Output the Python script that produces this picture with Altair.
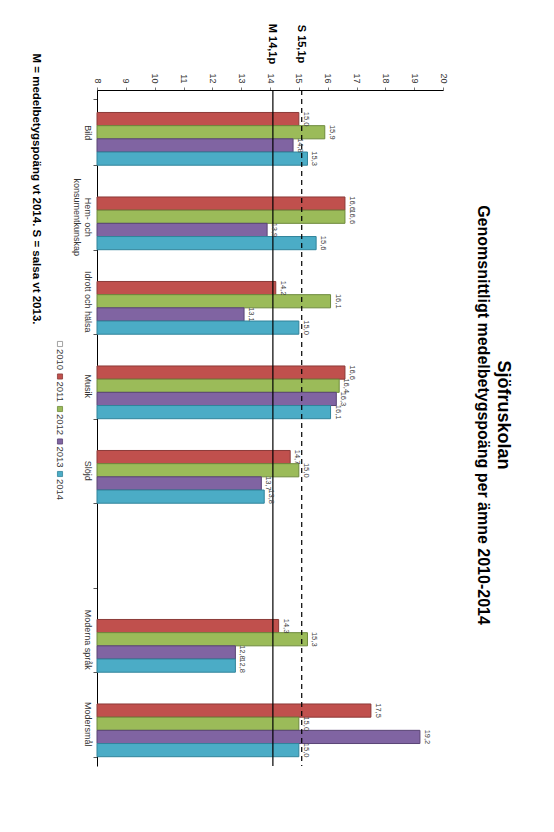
import altair as alt
import pandas as pd

# ---- data ----
categories = ["Bild", "Hem- och|konsumentkunskap", "Idrott och hälsa", "Musik",
              "Slöjd", " ", "Moderna språk", "Modersmål"]
years = ["2010", "2011", "2012", "2013", "2014"]
v2010 = [None, None, None, None, None, None, None, None]
v2011 = [15.0, 16.6, 14.2, 16.6, 14.7, None, 14.3, 17.5]
v2012 = [15.9, 16.6, 16.1, 16.4, 15.0, None, 15.3, 15.0]
v2013 = [14.8, 13.9, 13.1, 16.3, 13.7, None, 12.8, 19.2]
v2014 = [15.3, 15.6, 15.0, 16.1, 13.8, None, 12.8, 15.0]
fill_colors = ["#FFFFFF", "#C0504D", "#9BBB59", "#8064A2", "#4BACC6"]
stroke_colors = ["#8C8C8C", "#8C3A38", "#6E8A3C", "#5A4575", "#31849B"]
ref_names = ["M 14,1p", "S 15,1p"]
ref_values = [14.1, 15.1]
x_ticks = list(range(8, 21))
title_text = "Sjöfruskolan"
subtitle_text = "Genomsnittligt medelbetygspoäng per ämne 2010-2014"
footnote = "M = medelbetygspoäng vt 2014. S = salsa vt 2013."

rows = []
for yr, vals in zip(years, [v2010, v2011, v2012, v2013, v2014]):
    for c, v in zip(categories, vals):
        if v is not None:
            rows.append({"cat": c, "year": yr, "value": v,
                         "label": f"{v:.1f}".replace(".", ",")})
df = pd.DataFrame(rows)
ref_df = pd.DataFrame({"value": ref_values, "name": ref_names})
leg_df = pd.DataFrame({"year": years})
foot_df = pd.DataFrame({"t": [footnote]})

FONT = "Liberation Sans"

x_scale = alt.Scale(domain=[8, 20], nice=False, zero=False)
x_axis = alt.Axis(orient="top", values=x_ticks, grid=False, labelAngle=90,
                  labelAlign="right", labelBaseline="middle", labelPadding=4,
                  labelFontSize=9, labelColor="#333333", tickSize=3,
                  tickColor="#777777", domainColor="#000000", domainWidth=1)
x_enc = alt.X("value:Q", scale=x_scale, axis=x_axis, title=None)

y_scale = alt.Scale(domain=categories, paddingInner=0.22, paddingOuter=0.11)
y_axis = alt.Axis(orient="left", labelAngle=90, labelAlign="center",
                  labelBaseline="top", labelPadding=2, labelFontSize=9,
                  labelColor="#333333", tickBand="extent", tickSize=4,
                  tickColor="#555555", domainColor="#000000", domainWidth=1,
                  labelExpr="split(datum.label, '|')", grid=False)
yoff = alt.YOffset("year:N", scale=alt.Scale(domain=years, paddingInner=0, paddingOuter=0))
fill_enc = alt.Fill("year:N", scale=alt.Scale(domain=years, range=fill_colors), legend=None)
stroke_enc = alt.Stroke("year:N", scale=alt.Scale(domain=years, range=stroke_colors), legend=None)

bars = alt.Chart(df).mark_bar(strokeWidth=1).encode(
    x=x_enc, x2=alt.datum(8),
    y=alt.Y("cat:N", scale=y_scale, axis=y_axis, title=None),
    yOffset=yoff, fill=fill_enc, stroke=stroke_enc,
)

labels = alt.Chart(df).mark_text(angle=90, align="center", baseline="bottom", dy=-3,
                                 fontSize=7.5, color="#404040", font=FONT).encode(
    x=x_enc,
    y=alt.Y("cat:N", scale=y_scale, axis=None, title=None),
    yOffset=yoff, text="label:N",
)

rule_m = alt.Chart(ref_df.iloc[[0]]).mark_rule(color="black", strokeWidth=1.2).encode(x=x_enc)
rule_s = alt.Chart(ref_df.iloc[[1]]).mark_rule(color="black", strokeWidth=1.2,
                                                strokeDash=[5, 4]).encode(x=x_enc)

ref_text = alt.Chart(ref_df).mark_text(angle=90, align="center", baseline="middle",
                                       fontSize=11, fontWeight="bold", color="black",
                                       font=FONT, dy=1).encode(
    x=x_enc, y=alt.value(-46), text="name:N")

leg_y = alt.Y("year:N", scale=alt.Scale(domain=years, range=[254, 384], padding=0),
              axis=None, title=None)
leg_pts = alt.Chart(leg_df).mark_point(shape="square", filled=True, size=26,
                                       strokeWidth=0.8, opacity=1).encode(
    x=alt.value(-37), y=leg_y, fill=fill_enc, stroke=stroke_enc)
leg_txt = alt.Chart(leg_df).mark_text(angle=90, align="left", baseline="middle",
                                      dx=5, fontSize=9.5, color="#333333", font=FONT).encode(
    x=alt.value(-37), y=leg_y, text="year:N")

foot = alt.Chart(foot_df).mark_text(angle=90, align="center", baseline="middle",
                                    fontSize=11.5, fontWeight="bold", color="black",
                                    font=FONT).encode(
    x=alt.value(-61), y=alt.value(99), text="t:N")

chart = alt.layer(bars, rule_m, rule_s, labels, ref_text, leg_pts, leg_txt, foot).resolve_scale(
    y="independent"
).properties(
    width=346, height=676,
    title=alt.Title(title_text, subtitle=subtitle_text, orient="right", anchor="middle",
                    fontSize=18, fontWeight="bold", font=FONT, color="black",
                    subtitleFont=FONT, subtitleFontSize=16, subtitleFontWeight="bold",
                    subtitleColor="black", offset=28, dx=-13),
    autosize=alt.AutoSizeParams(type="none"),
    padding={"left": 89, "top": 82, "right": 100, "bottom": 40},
).configure(font=FONT, view=alt.ViewConfig(stroke=None))

chart.save("out.html", embed_options={"renderer": "svg", "actions": False})
